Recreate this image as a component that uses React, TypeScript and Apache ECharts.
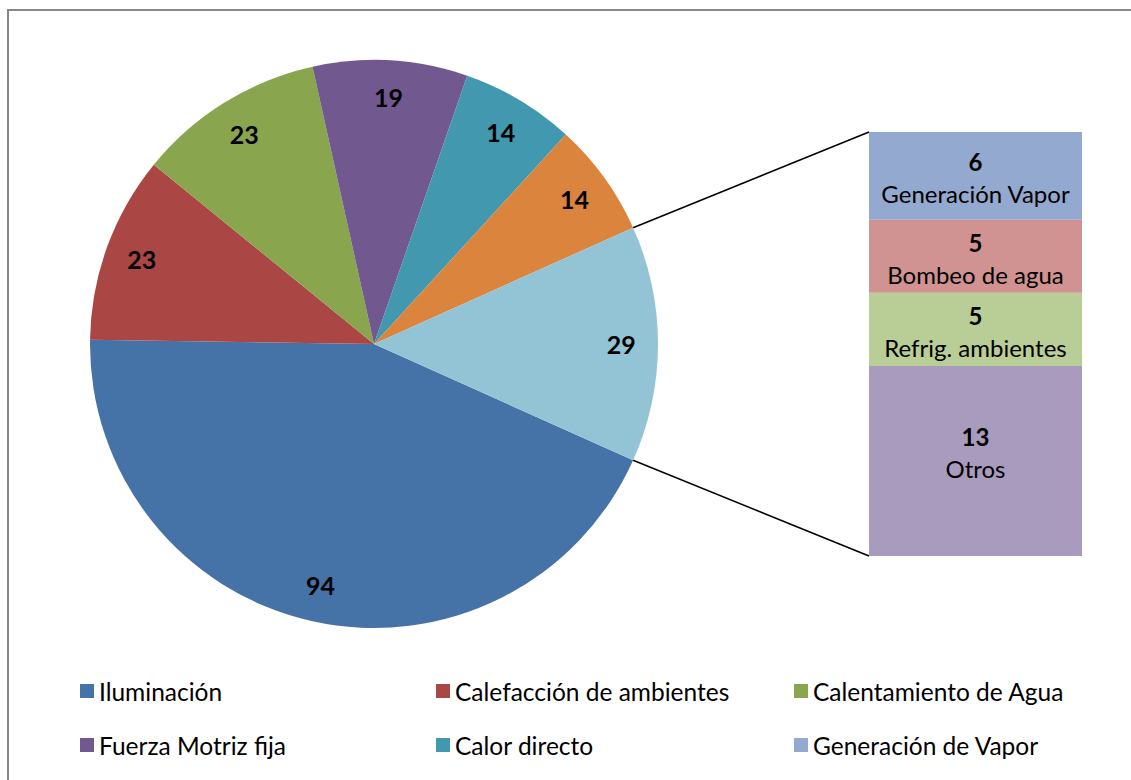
import React, { useEffect, useRef } from "react";
import * as echarts from "echarts";

const pieNames = [
  "Iluminación",
  "Calefacción de ambientes",
  "Calentamiento de Agua",
  "Fuerza Motriz fija",
  "Calor directo",
  "Otros consumos",
  "Agrupado",
];
const pieValues = [94, 23, 23, 19, 14, 14, 29];
const pieColors = ["#4572A7", "#AA4643", "#89A54E", "#71588F", "#4198AF", "#DB843D", "#93C4D5"];

const barLegendNames = ["Generación de Vapor", "Bombeo de agua", "Refrig. ambientes", "Otros"];
const barLabels = ["Generación Vapor", "Bombeo de agua", "Refrig. ambientes", "Otros"];
const barValues = [6, 5, 5, 13];
const barColors = ["#93A9CF", "#D19392", "#B9CD96", "#A99BBD"];

const legendColumns = [
  ["Iluminación", "Fuerza Motriz fija"],
  ["Calefacción de ambientes", "Calor directo"],
  ["Calentamiento de Agua", "Generación de Vapor"],
];

const FONT = "Lato, 'Open Sans', sans-serif";

export default function App() {
  const ref = useRef<HTMLDivElement>(null);
  useEffect(() => {
    if (!ref.current) return;
    const chart = echarts.init(ref.current, undefined, { renderer: "svg" });
    const cx = 374, cy = 344, R = 284;
    const total = pieValues.reduce((a, b) => a + b, 0);
    const half = (pieValues[pieValues.length - 1] / total) * Math.PI;
    const startAngle = -(half * 180) / Math.PI;
    const gLeft = 869, gTop = 132, gW = 213, gH = 424;
    const p1x = cx + R * Math.cos(half), p1y = cy - R * Math.sin(half);
    const p2x = p1x, p2y = cy + R * Math.sin(half);

    const barSum = barValues.reduce((a, b) => a + b, 0);
    const order = [3, 2, 1, 0];
    const barSeries = order.map((i) => ({
      type: "bar",
      name: barLegendNames[i],
      stack: "s",
      barWidth: "100%",
      barCategoryGap: 0,
      data: [barValues[i]],
      itemStyle: { color: barColors[i] },
      silent: true,
      label: {
        show: true,
        position: "inside",
        offset: i === 3 ? [0, -8] : [0, 2],
        formatter: `{v|${barValues[i]}}\n{n|${barLabels[i]}}`,
        rich: {
          v: { fontFamily: FONT, fontSize: 24, fontWeight: "bold", color: "#000", lineHeight: 32 },
          n: { fontFamily: FONT, fontSize: 24, color: "#000", lineHeight: 32 },
        },
      },
    }));

    const legends = legendColumns.map((col, k) => ({
      orient: "vertical",
      left: [80, 436, 794][k],
      top: 678,
      padding: 0,
      data: col,
      icon: "rect",
      itemWidth: 14,
      itemHeight: 14,
      itemGap: 28,
      itemTextGap: 6,
      selectedMode: false,
      textStyle: { fontFamily: FONT, fontSize: 24.5, color: "#000", lineHeight: 26 },
    }));

    chart.setOption({
      animation: false,
      backgroundColor: "#fff",
      legend: legends,
      grid: { left: gLeft, top: gTop, width: gW, height: gH, containLabel: false },
      xAxis: { type: "category", data: [""], show: false },
      yAxis: { type: "value", min: 0, max: barSum, show: false },
      graphic: [
        {
          type: "rect",
          shape: { x: 8, y: 10, width: 1200, height: 900 },
          style: { fill: "none", stroke: "#878787", lineWidth: 2 },
          silent: true,
        },
        {
          type: "line",
          shape: { x1: p1x, y1: p1y, x2: gLeft, y2: gTop },
          style: { stroke: "#000", lineWidth: 1.5 },
          silent: true,
        },
        {
          type: "line",
          shape: { x1: p2x, y1: p2y, x2: gLeft, y2: gTop + gH },
          style: { stroke: "#000", lineWidth: 1.5 },
          silent: true,
        },
      ],
      series: [
        {
          type: "pie",
          center: [cx, cy],
          radius: [0, R],
          startAngle,
          clockwise: true,
          silent: true,
          label: { show: false },
          labelLine: { show: false },
          data: pieNames.map((n, i) => ({ name: n, value: pieValues[i], itemStyle: { color: pieColors[i] } })),
        },
        {
          type: "pie",
          center: [cx, cy],
          radius: [R * 0.72, R],
          startAngle,
          clockwise: true,
          silent: true,
          itemStyle: { color: "rgba(0,0,0,0)" },
          label: {
            show: true,
            position: "inside",
            formatter: "{c}",
            fontFamily: FONT,
            fontSize: 25,
            fontWeight: "bold",
            color: "#000",
          },
          labelLine: { show: false },
          data: pieNames.map((n, i) => ({ name: n + " ", value: pieValues[i] })),
        },
        ...barSeries,
      ],
    });
    return () => chart.dispose();
  }, []);
  return <div ref={ref} style={{ position: "fixed", left: 0, top: 0, width: 1131, height: 780 }} />;
}
